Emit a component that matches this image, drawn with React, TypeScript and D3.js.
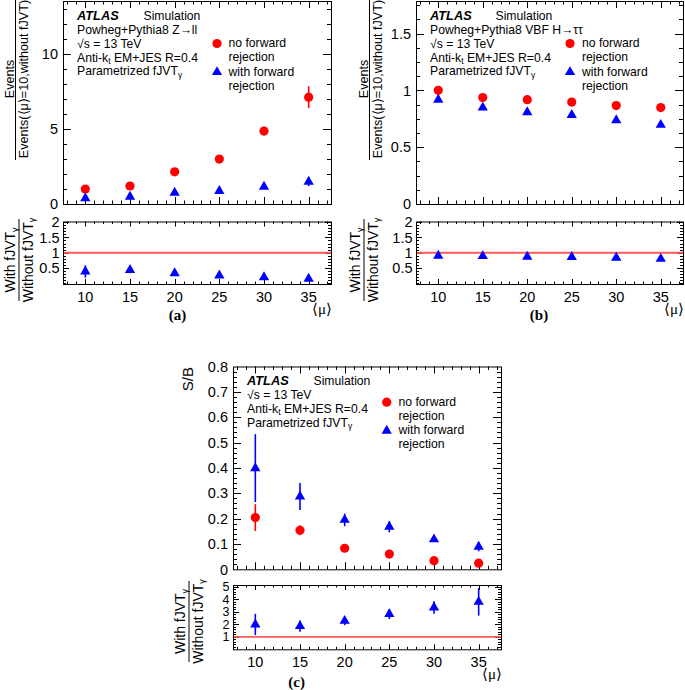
import React from 'react';
import * as d3 from 'd3';

const FONT = "'Liberation Sans', Arial, Helvetica, sans-serif";
const SERIF = "'Liberation Serif', 'Times New Roman', serif";
const RED = '#ff0000';
const BLUE = '#0000ff';

// ---------- data ----------
const mu = [10, 15, 20, 25, 30, 35];
const xTickLabels = ['10', '15', '20', '25', '30', '35'];

// panel (a) Z->ll
const aNoFwd = [1.0, 1.2, 2.15, 3.0, 4.87, 7.13];
const aNoFwdErr = [0.05, 0.07, 0.1, 0.13, 0.28, 0.73];
const aWithFwd = [0.38, 0.49, 0.75, 0.87, 1.15, 1.49];
const aWithFwdErr = [0.04, 0.04, 0.06, 0.08, 0.14, 0.3];
const aRatio = [0.39, 0.44, 0.33, 0.26, 0.2, 0.15];
const aRatioErr = [0.2, 0.05, 0.04, 0.03, 0.03, 0.03];

// panel (b) VBF H->tautau
const bNoFwd = [1.0, 0.936, 0.918, 0.897, 0.866, 0.848];
const bNoFwdErr = [0.01, 0.01, 0.01, 0.01, 0.01, 0.01];
const bWithFwd = [0.918, 0.848, 0.807, 0.783, 0.737, 0.696];
const bWithFwdErr = [0.01, 0.01, 0.01, 0.01, 0.01, 0.01];
const bRatio = [0.9, 0.89, 0.87, 0.86, 0.84, 0.8];
const bRatioErr = [0.02, 0.02, 0.02, 0.02, 0.02, 0.02];

// panel (c) S/B
const cNoFwd = [0.204, 0.154, 0.083, 0.06, 0.034, 0.024];
const cNoFwdErr = [0.053, 0.02, 0.006, 0.005, 0.004, 0.004];
const cWithFwd = [0.399, 0.287, 0.195, 0.168, 0.118, 0.089];
const cWithFwdErr = [0.134, 0.053, 0.025, 0.022, 0.01, 0.018];
const cRatio = [1.99, 1.86, 2.28, 2.82, 3.35, 3.8];
const cRatioErr = [0.85, 0.45, 0.35, 0.4, 0.5, 1.1];

const aYTicks = [0, 5, 10];
const bYTicks = [0, 0.5, 1, 1.5];
const cYTicks = [0, 0.1, 0.2, 0.3, 0.4, 0.5, 0.6, 0.7, 0.8];
const abRatioTicks = [0.5, 1, 1.5, 2];
const cRatioTicks = [1, 2, 3, 4, 5];

// ---------- helpers ----------
type Scale = d3.ScaleLinear<number, number>;

function tickPath(
  xs: Scale, ys: Scale,
  xMaj: number[], xMin: number[], yMaj: number[], yMin: number[],
  xMajLen: number, xMinLen: number, yMajLen: number, yMinLen: number
) {
  const [xl, xr] = xs.range();
  const [yb, yt] = ys.range();
  let d = '';
  const [xd0, xd1] = xs.domain();
  const [yd0, yd1] = ys.domain();
  const inX = (v: number) => v > xd0 + 1e-9 && v < xd1 - 1e-9;
  const inY = (v: number) => v > yd0 + 1e-9 && v < yd1 - 1e-9;
  xMaj.filter(inX).forEach(v => {
    const X = Math.round(xs(v)) + 0.5;
    d += `M${X},${yb}v${-xMajLen}M${X},${yt}v${xMajLen}`;
  });
  xMin.filter(inX).forEach(v => {
    const X = Math.round(xs(v)) + 0.5;
    d += `M${X},${yb}v${-xMinLen}M${X},${yt}v${xMinLen}`;
  });
  yMaj.filter(inY).forEach(v => {
    const Y = Math.round(ys(v)) + 0.5;
    d += `M${xl},${Y}h${yMajLen}M${xr},${Y}h${-yMajLen}`;
  });
  yMin.filter(inY).forEach(v => {
    const Y = Math.round(ys(v)) + 0.5;
    d += `M${xl},${Y}h${yMinLen}M${xr},${Y}h${-yMinLen}`;
  });
  return d;
}

const triPath = d3.symbol().type(d3.symbolTriangle).size(46)()!;

function Points({ xs, ys, vals, errs, kind }: { xs: Scale; ys: Scale; vals: number[]; errs: number[]; kind: 'circle' | 'tri' }) {
  const col = kind === 'circle' ? RED : BLUE;
  return (
    <g>
      {vals.map((v, i) => (
        <line key={'e' + i} x1={xs(mu[i])} x2={xs(mu[i])} y1={ys(v - errs[i])} y2={ys(v + errs[i])} stroke={col} strokeWidth={1.6} />
      ))}
      {vals.map((v, i) =>
        kind === 'circle' ? (
          <circle key={'m' + i} cx={xs(mu[i])} cy={ys(v)} r={4.6} fill={col} />
        ) : (
          <path key={'m' + i} d={triPath} transform={`translate(${xs(mu[i])},${ys(v)})`} fill={col} />
        )
      )}
    </g>
  );
}

type PanelCfg = {
  left: number; right: number; top: number; mid: number; rTop: number; rBot: number;
  yMax: number; yTicks: number[]; yMinorStep: number;
  rDomain: [number, number]; rTicks: number[]; rMinorStep: number; rFont: number;
  noFwd: number[]; noFwdErr: number[]; withFwd: number[]; withFwdErr: number[];
  ratio: number[]; ratioErr: number[];
};

function Panel({ c }: { c: PanelCfg }) {
  const xs = d3.scaleLinear().domain([7.5, 37.5]).range([c.left, c.right]);
  const ys = d3.scaleLinear().domain([0, c.yMax]).range([c.mid, c.top]);
  const yr = d3.scaleLinear().domain(c.rDomain).range([c.rBot, c.rTop]);
  const xMinor = d3.range(8, 38, 1);
  const yMinor = d3.range(0, c.yMax, c.yMinorStep);
  const rMinor = d3.range(Math.ceil(c.rDomain[0] / c.rMinorStep) * c.rMinorStep, c.rDomain[1], c.rMinorStep);
  const fmt = d3.format('~g');
  return (
    <g>
      {/* top frame */}
      <rect x={c.left + 0.5} y={c.top + 0.5} width={c.right - c.left} height={c.mid - c.top} fill="none" stroke="#000" strokeWidth={1} />
      <path d={tickPath(xs, ys, mu, xMinor, c.yTicks, yMinor, 7, 3.5, 8, 4)} stroke="#000" strokeWidth={1} fill="none" />
      {c.yTicks.map(v => (
        <text key={v} x={c.left - 5} y={ys(v)} dy="0.36em" textAnchor="end" fontFamily={FONT} fontSize={14.5}>{fmt(v)}</text>
      ))}
      <Points xs={xs} ys={ys} vals={c.noFwd} errs={c.noFwdErr} kind="circle" />
      <Points xs={xs} ys={ys} vals={c.withFwd} errs={c.withFwdErr} kind="tri" />
      {/* ratio frame */}
      <rect x={c.left + 0.5} y={c.rTop + 0.5} width={c.right - c.left} height={c.rBot - c.rTop} fill="none" stroke="#000" strokeWidth={1} />
      <path d={tickPath(xs, yr, mu, xMinor, c.rTicks, rMinor, 5, 2.5, 6, 3)} stroke="#000" strokeWidth={1} fill="none" />
      {c.rTicks.map(v => (
        <text key={v} x={c.left - 3.5} y={yr(v)} dy="0.36em" textAnchor="end" fontFamily={FONT} fontSize={c.rFont}>{fmt(v)}</text>
      ))}
      <line x1={c.left + 1} x2={c.right} y1={yr(1)} y2={yr(1)} stroke="#ff5a5a" strokeWidth={1.8} />
      <Points xs={xs} ys={yr} vals={c.ratio} errs={c.ratioErr} kind="tri" />
      {mu.map((m, i) => (
        <text key={m} x={xs(m)} y={c.rBot + 17.5} textAnchor="middle" fontFamily={FONT} fontSize={14.5}>{xTickLabels[i]}</text>
      ))}
      <text x={c.right + 1} y={c.rBot + 30} textAnchor="end" fontFamily={SERIF} fontSize={15}>⟨μ⟩</text>
    </g>
  );
}

function InfoBlock({ x, y0, simX, process }: { x: number; y0: number; simX: number; process: string | null }) {
  const lines: React.ReactNode[] = [];
  if (process) lines.push(<tspan>{process}</tspan>);
  lines.push(<tspan>√s = 13 TeV</tspan>);
  lines.push(<tspan>Anti-k<tspan fontSize={8.5} dy={2.5}>t</tspan><tspan dy={-2.5}> EM+JES R=0.4</tspan></tspan>);
  lines.push(<tspan>Parametrized fJVT<tspan fontSize={8.5} dy={2.5}>γ</tspan></tspan>);
  return (
    <g fontFamily={FONT} fontSize={12.2}>
      <text x={x} y={y0} fontWeight="bold" fontStyle="italic" fontSize={12.8}>ATLAS</text>
      <text x={simX} y={y0}>Simulation</text>
      {lines.map((l, i) => (
        <text key={i} x={x} y={y0 + 13.9 * (i + 1)}>{l}</text>
      ))}
    </g>
  );
}

function Legend({ mx, tx, y0 }: { mx: number; tx: number; y0: number }) {
  return (
    <g fontFamily={FONT} fontSize={12.2}>
      <circle cx={mx} cy={y0 - 3.8} r={4.6} fill={RED} />
      <text x={tx} y={y0}>no forward</text>
      <text x={tx} y={y0 + 14}>rejection</text>
      <path d={triPath} transform={`translate(${mx},${y0 + 24.8})`} fill={BLUE} />
      <text x={tx} y={y0 + 28.2}>with forward</text>
      <text x={tx} y={y0 + 42.3}>rejection</text>
    </g>
  );
}

function FracTitle({ x, cy, num, den, fs, numOff, denOff }: { x: number; cy: number; num: React.ReactNode; den: React.ReactNode; fs: number; numOff: number; denOff: number }) {
  return (
    <g transform={`translate(${x},${cy}) rotate(-90)`} fontFamily={FONT} fontSize={fs}>
      <text x={0} y={numOff} textAnchor="middle">{num}</text>
      <text x={0} y={denOff} textAnchor="middle">{den}</text>
    </g>
  );
}

function FracBar({ x, y1, y2 }: { x: number; y1: number; y2: number }) {
  return <line x1={x} x2={x} y1={y1} y2={y2} stroke="#000" strokeWidth={1} />;
}

const panelA: PanelCfg = {
  left: 63, right: 331, top: 1, mid: 204, rTop: 221.5, rBot: 284,
  yMax: 13.55, yTicks: aYTicks, yMinorStep: 1,
  rDomain: [-0.02, 2.02], rTicks: abRatioTicks, rMinorStep: 0.1, rFont: 14.5,
  noFwd: aNoFwd, noFwdErr: aNoFwdErr, withFwd: aWithFwd, withFwdErr: aWithFwdErr,
  ratio: aRatio, ratioErr: aRatioErr,
};
const panelB: PanelCfg = {
  left: 416, right: 683, top: 1, mid: 204, rTop: 221.5, rBot: 284,
  yMax: 1.786, yTicks: bYTicks, yMinorStep: 0.125,
  rDomain: [-0.02, 2.02], rTicks: abRatioTicks, rMinorStep: 0.1, rFont: 14.5,
  noFwd: bNoFwd, noFwdErr: bNoFwdErr, withFwd: bWithFwd, withFwdErr: bWithFwdErr,
  ratio: bRatio, ratioErr: bRatioErr,
};
const panelC: PanelCfg = {
  left: 233, right: 501, top: 366.5, mid: 569.3, rTop: 585, rBot: 649.3,
  yMax: 0.8, yTicks: cYTicks, yMinorStep: 0.02,
  rDomain: [0, 5.15], rTicks: cRatioTicks, rMinorStep: 0.2, rFont: 12.5,
  noFwd: cNoFwd, noFwdErr: cNoFwdErr, withFwd: cWithFwd, withFwdErr: cWithFwdErr,
  ratio: cRatio, ratioErr: cRatioErr,
};

const evNum = <tspan>Events</tspan>;
const evDen = <tspan>Events(⟨μ⟩=10,without fJVT)</tspan>;
const rNum = <tspan>With fJVT<tspan fontSize={9} dy={2.5}>γ</tspan></tspan>;
const rDen = <tspan>Without fJVT<tspan fontSize={9} dy={2.5}>γ</tspan></tspan>;

export default function App() {
  return (
    <svg width={685} height={690} style={{ position: 'absolute', left: 0, top: 0, background: '#fff' }}>
      <rect width={685} height={690} fill="#fff" />
      <Panel c={panelA} />
      <Panel c={panelB} />
      <Panel c={panelC} />

      {/* y titles (a) */}
      <FracTitle x={15.5} cy={79} num={evNum} den={evDen} fs={12.6} numOff={-1.5} denOff={12} />
      <FracBar x={15.5} y1={-2} y2={160} />
      <FracTitle x={19} cy={260} num={rNum} den={rDen} fs={14} numOff={-4} denOff={13.5} />
      <FracBar x={19} y1={219} y2={301} />
      {/* y titles (b) */}
      <FracTitle x={369.5} cy={79} num={evNum} den={evDen} fs={12.6} numOff={-1.5} denOff={12} />
      <FracBar x={369.5} y1={-2} y2={160} />
      <FracTitle x={364} cy={260} num={rNum} den={rDen} fs={14} numOff={-4} denOff={13.5} />
      <FracBar x={364} y1={219} y2={301} />
      {/* y titles (c) */}
      <text transform="translate(193,367) rotate(-90)" textAnchor="end" fontFamily={FONT} fontSize={15}>S/B</text>
      <FracTitle x={189} cy={621.5} num={rNum} den={rDen} fs={14} numOff={-4} denOff={13.5} />
      <FracBar x={189} y1={581} y2={662} />

      {/* info text */}
      <InfoBlock x={77} y0={19.8} simX={143.5} process="Powheg+Pythia8 Z→ll" />
      <Legend mx={217} tx={228.5} y0={47.3} />
      <InfoBlock x={430} y0={19.8} simX={495.5} process="Powheg+Pythia8 VBF H→ττ" />
      <Legend mx={570} tx={582} y0={47.3} />
      <InfoBlock x={247} y0={385} simX={313.5} process={null} />
      <Legend mx={386.7} tx={398.5} y0={406} />

      {/* panel labels */}
      <text x={177.5} y={320} textAnchor="middle" fontFamily={SERIF} fontWeight="bold" fontSize={15}>(a)</text>
      <text x={539} y={320} textAnchor="middle" fontFamily={SERIF} fontWeight="bold" fontSize={15}>(b)</text>
      <text x={296.7} y={687} textAnchor="middle" fontFamily={SERIF} fontWeight="bold" fontSize={15}>(c)</text>
    </svg>
  );
}
